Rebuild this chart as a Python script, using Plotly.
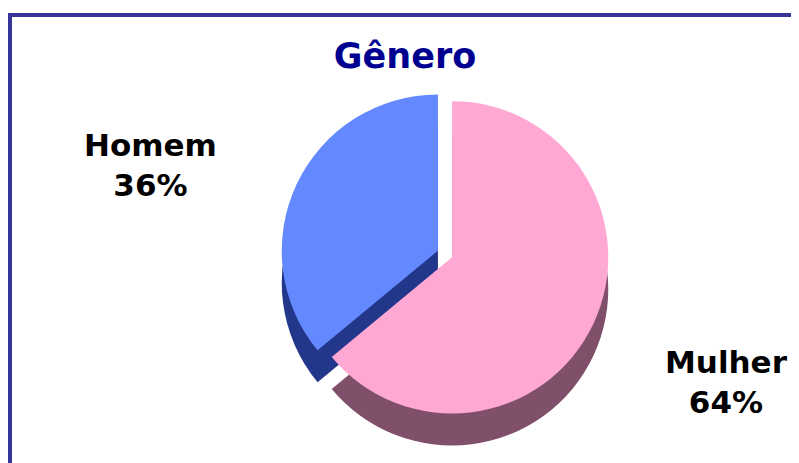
import plotly.graph_objects as go

title_text = "Gênero"
labels = ["Mulher", "Homem"]
values = [64, 36]
top_colors = ["#FFA8D4", "#6489FF"]
side_colors = ["#80506A", "#22368A"]
pulls = [0.05, 0.05]

W, H = 799, 463
OFF = 8  # page body margin offset
cx, cy, r = 445 - OFF, 254 - OFF, 164
depth = 32

def px_x(x):
    return (x - OFF) / W

def px_y(y):
    return 1 - (y - OFF) / H

def dom(cx, cy, r):
    return dict(x=[(cx - r) / W, (cx + r) / W], y=[1 - (cy + r) / H, 1 - (cy - r) / H])

fig = go.Figure()
# side (depth) of the pie
fig.add_trace(go.Pie(
    labels=labels, values=values, sort=False, direction="clockwise", rotation=0,
    pull=pulls, marker=dict(colors=side_colors, line=dict(width=0)),
    textinfo="none", hoverinfo="skip", showlegend=False,
    domain=dom(cx, cy + depth, r),
))
# top surface
fig.add_trace(go.Pie(
    labels=labels, values=values, sort=False, direction="clockwise", rotation=0,
    pull=pulls, marker=dict(colors=top_colors, line=dict(width=0)),
    textinfo="none", showlegend=False, domain=dom(cx, cy, r),
))

total = sum(values)
label_pos = {"Homem": (150, 165), "Mulher": (726, 382)}
annotations = []
for lab, val in zip(labels, values):
    x, y = label_pos[lab]
    annotations.append(dict(
        text=f"{lab}<br>{round(100 * val / total)}%", x=px_x(x), y=px_y(y),
        xref="paper", yref="paper", xanchor="center", yanchor="middle",
        showarrow=False, align="center",
        font=dict(family="DejaVu Sans", size=31, color="#000000", weight="bold"),
    ))

fig.update_layout(
    width=W, height=H,
    margin=dict(l=0, r=0, t=0, b=0),
    paper_bgcolor="white", plot_bgcolor="white",
    title=dict(text=title_text, x=px_x(405), xanchor="center", y=px_y(56), yanchor="middle",
               font=dict(family="DejaVu Sans", size=35, color="#000090", weight="bold")),
    annotations=annotations,
    shapes=[dict(type="rect", xref="paper", yref="paper", x0=px_x(10), x1=1.05,
                 y0=-0.1, y1=px_y(15), line=dict(color="#35359A", width=4),
                 fillcolor="rgba(0,0,0,0)", layer="below")],
)

fig.write_html("out.html")
